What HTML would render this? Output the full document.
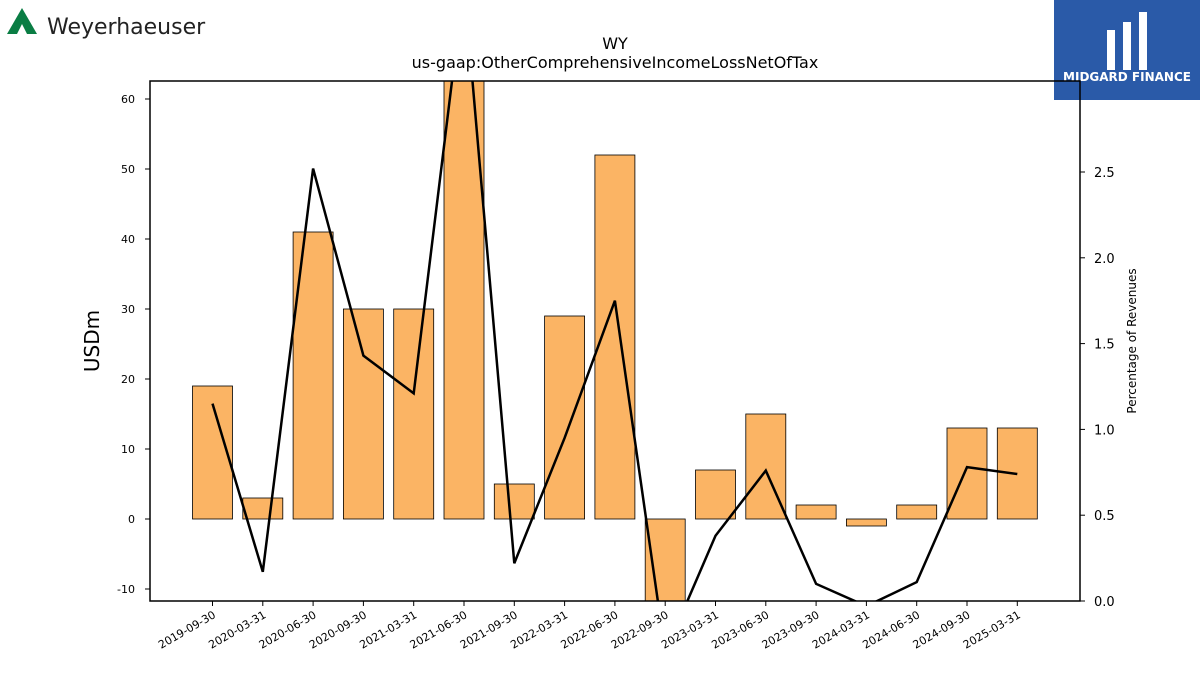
<!DOCTYPE html>
<html><head><meta charset="utf-8"><style>
body{margin:0;background:#fff;font-family:"Liberation Sans","DejaVu Sans",sans-serif;}
svg text{font-family:"DejaVu Sans","Liberation Sans",sans-serif;}
</style></head><body>
<svg width="1200" height="675" viewBox="0 0 1200 675">
<defs><clipPath id="pc"><rect x="150" y="81" width="930" height="520"/></clipPath></defs>
<g>
<polygon points="7,34 22,8 37,34" fill="#0a7d44"/>
<polygon points="17,34 22,24 27,34" fill="#fff"/>
<text x="47" y="34" font-size="22" font-family="Liberation Serif,serif" fill="#222">Weyerhaeuser</text>
</g>
<g>
<rect x="1054" y="0" width="146" height="100" fill="#2a5aa8"/>
<rect x="1107" y="30" width="8" height="40" fill="#fff"/><rect x="1123" y="22" width="8" height="48" fill="#fff"/><rect x="1139" y="12" width="8" height="58" fill="#fff"/>
<text x="1127" y="81" font-size="12" font-weight="bold" fill="#fff" text-anchor="middle">MIDGARD FINANCE</text>
</g>
<text x="615" y="49" font-size="16" text-anchor="middle">WY</text>
<text x="615" y="68" font-size="16" text-anchor="middle">us-gaap:OtherComprehensiveIncomeLossNetOfTax</text>
<g id="bars" clip-path="url(#pc)"></g>
<g id="line" clip-path="url(#pc)"></g>
<rect x="150" y="81" width="930" height="520" fill="none" stroke="#000" stroke-width="1.5"/>
<g id="axes"></g>
<text transform="translate(99,341) rotate(-90)" font-size="20" text-anchor="middle">USDm</text>
<text transform="translate(1136,341) rotate(-90)" font-size="12" text-anchor="middle">Percentage of Revenues</text>
</svg>
<script>
const categories=["2019-09-30","2020-03-31","2020-06-30","2020-09-30","2021-03-31","2021-06-30","2021-09-30","2022-03-31","2022-06-30","2022-09-30","2023-03-31","2023-06-30","2023-09-30","2024-03-31","2024-06-30","2024-09-30","2025-03-31"];
const values=[19,3,41,30,30,75,5,29,52,-15,7,15,2,-1,2,13,13];
const pct=[1.15,0.17,2.52,1.43,1.21,3.6,0.22,0.95,1.75,-0.3,0.38,0.76,0.10,-0.03,0.11,0.78,0.74];
const leftTicks=[-10,0,10,20,30,40,50,60];
const rightTicks=[0.0,0.5,1.0,1.5,2.0,2.5];
const NS="http://www.w3.org/2000/svg";
const y=v=>519-7*v, y2=v=>601-171.6*v, x=i=>212.5+50.3*i;
function mk(t,a,p){const e=document.createElementNS(NS,t);for(const k in a)e.setAttribute(k,a[k]);p.appendChild(e);return e;}
const bg=document.getElementById('bars'),lg=document.getElementById('line'),ax=document.getElementById('axes');
values.forEach((v,i)=>{const r=mk('rect',{x:x(i)-20,y:Math.min(y(v),y(0)),width:40,height:Math.abs(y(v)-y(0)),fill:'#fbb464',stroke:'#000','stroke-width':0.8},bg);

});
const pl=mk('polyline',{points:pct.map((p,i)=>x(i)+','+y2(p)).join(' '),fill:'none',stroke:'#000','stroke-width':2.5},lg);


leftTicks.forEach(t=>{mk('line',{x1:145,x2:150,y1:y(t),y2:y(t),stroke:'#000'},ax);
const tx=mk('text',{x:135,y:y(t)+4,'font-size':11,'text-anchor':'end'},ax);tx.textContent=t;

});
rightTicks.forEach(t=>{mk('line',{x1:1080,x2:1085,y1:y2(t),y2:y2(t),stroke:'#000'},ax);
const tx=mk('text',{x:1094,y:y2(t)+5,'font-size':13},ax);tx.textContent=t.toFixed(1);

});
categories.forEach((c,i)=>{mk('line',{x1:x(i),x2:x(i),y1:601,y2:606,stroke:'#000'},ax);
const tx=mk('text',{x:x(i)+4,y:617,'font-size':11,'text-anchor':'end',transform:`rotate(-30 ${x(i)+4} 617)`},ax);tx.textContent=c;

});
</script>
</body></html>
